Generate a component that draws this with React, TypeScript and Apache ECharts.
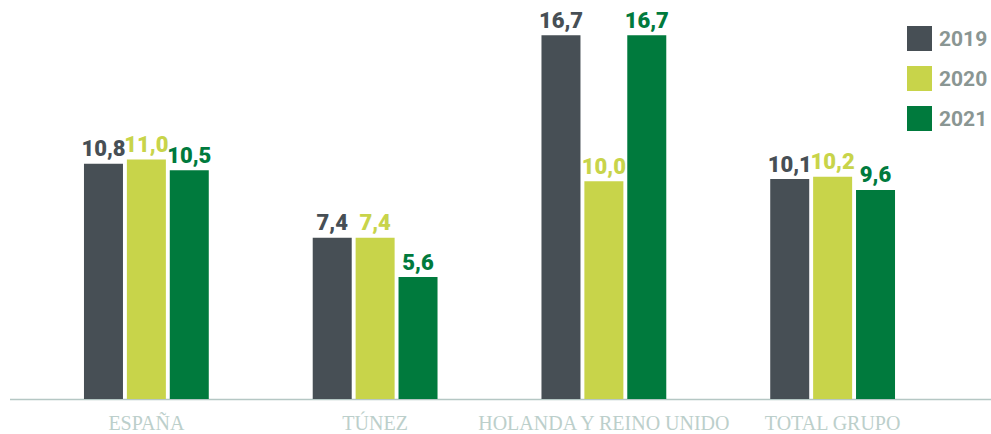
import React, { useEffect, useRef } from "react";
import * as echarts from "echarts";

const categories = ["ESPAÑA", "TÚNEZ", "HOLANDA Y REINO UNIDO", "TOTAL GRUPO"];
const years = ["2019", "2020", "2021"];
const values2019 = [10.8, 7.4, 16.7, 10.1];
const values2020 = [11.0, 7.4, 10.0, 10.2];
const values2021 = [10.5, 5.6, 16.7, 9.6];
const colors = ["#474f55", "#c8d44a", "#007a3d"];

export default function App() {
  const ref = useRef<HTMLDivElement>(null);
  useEffect(() => {
    if (!ref.current) return;
    const chart = echarts.init(ref.current, undefined, { renderer: "svg" });
    const series = [values2019, values2020, values2021].map((vals, i) => ({
      name: years[i],
      type: "bar",
      data: vals,
      barWidth: 39,
      barGap: "10%",
      itemStyle: { color: colors[i] },
      label: {
        show: true,
        position: "top",
        distance: 4,
        color: colors[i],
        fontFamily: "Roboto",
        fontWeight: 900,
        fontSize: 22,
        formatter: (p: any) => p.value.toFixed(1).replace(".", ","),
      },
    }));
    chart.setOption({
      animation: false,
      grid: { left: 32, right: 44, top: 7, bottom: 35 },
      legend: {
        data: years,
        orient: "vertical",
        left: 902,
        top: 21,
        itemWidth: 25,
        itemHeight: 25,
        itemGap: 15,
        icon: "rect",
        textStyle: { color: "#8a9693", fontFamily: "Roboto", fontWeight: "bold", fontSize: 21, padding: [0, 0, 0, 2] },
      },
      xAxis: {
        type: "category",
        data: categories,
        axisLine: { show: false },
        axisTick: { show: false },
        axisLabel: {
          interval: 0,
          color: "#bccfcb",
          fontFamily: "Liberation Serif",
          fontSize: 20,
          margin: 14,
        },
      },
      yAxis: {
        type: "value",
        min: 0,
        max: 18,
        show: false,
        splitLine: { show: false },
      },
      graphic: [
        {
          type: "line",
          shape: { x1: 10, y1: 399.5, x2: 991, y2: 399.5 },
          style: { stroke: "#b5c7c4", lineWidth: 1.5 },
        },
      ],
      series,
    });
    return () => chart.dispose();
  }, []);
  return (
    <div
      ref={ref}
      style={{ position: "absolute", left: 0, top: 0, width: 991, height: 434 }}
    />
  );
}
